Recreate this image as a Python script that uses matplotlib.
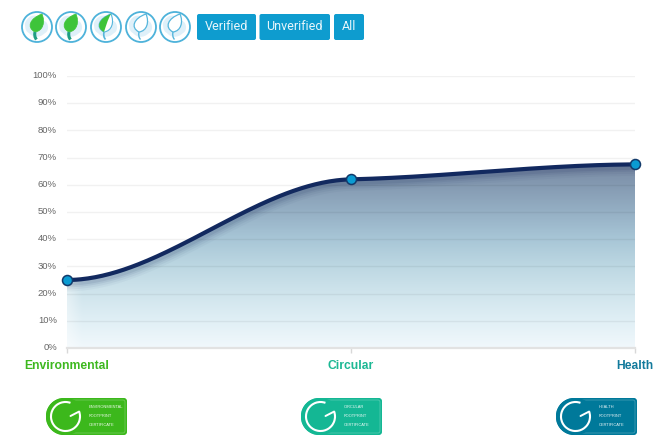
import numpy as np
import matplotlib
matplotlib.use("Agg")
import matplotlib.pyplot as plt
from matplotlib.path import Path
from matplotlib.patches import PathPatch, Circle, FancyBboxPatch, Arc
from matplotlib.colors import LinearSegmentedColormap
from matplotlib.transforms import ScaledTranslation

plt.rcParams['font.family'] = ['Liberation Sans', 'DejaVu Sans']

# ---- data ----
categories = ["Environmental", "Circular", "Health"]
values = [25, 62, 67.5]
end_slopes = [0, 2.5, 0.5]
y_ticks = list(range(0, 101, 10))
y_labels = [f"{v}%" for v in y_ticks]
cat_colors = ["#3db81e", "#1cb894", "#127a9c"]
badge_colors = ["#3cb81c", "#14b794", "#00799a"]
badge_lines = [["ENVIRONMENTAL", "FOOTPRINT", "CERTIFICATE"],
               ["CIRCULAR", "FOOTPRINT", "CERTIFICATE"],
               ["HEALTH", "FOOTPRINT", "CERTIFICATE"]]
leaf_fill = ["full", "full", "half", "none", "none"]
buttons = ["Verified", "Unverified", "All"]

W, H = 667, 445
fig = plt.figure(figsize=(W / 100, H / 100), dpi=100, facecolor="white")

# main plot axes, positioned in pixels
L, R, T, B = 66.6, 635, 76, 348
ax = fig.add_axes([L / W, 1 - B / H, (R - L) / W, (B - T) / H])
ax.set_xlim(0, 2)
ax.set_ylim(0, 100)
ax.patch.set_alpha(0)
for s in ax.spines.values():
    s.set_visible(False)

# smooth curve through the data (cubic Hermite)
xs, ys = [], []
for i in range(len(values) - 1):
    t = np.linspace(0, 1, 120)
    h00 = 2*t**3 - 3*t**2 + 1
    h10 = t**3 - 2*t**2 + t
    h01 = -2*t**3 + 3*t**2
    h11 = t**3 - t**2
    ys.append(h00*values[i] + h10*end_slopes[i] + h01*values[i+1] + h11*end_slopes[i+1])
    xs.append(i + t)
xs = np.concatenate(xs)
ys = np.concatenate(ys)

# gradient fill
cmap = LinearSegmentedColormap.from_list("fill", [
    (0.00, "#f1f8fc"), (0.15, "#e0eff5"), (0.30, "#cfe4ec"), (0.45, "#bcd7e2"),
    (0.60, "#a7c5d6"), (0.75, "#94aec3"), (0.90, "#8398b0"), (1.00, "#7a8aa3")])
top = max(values)
g = np.linspace(1, 0, 256)[:, None].repeat(300, axis=1)
rgba = cmap(g)
ramp = np.clip(0.6 + 0.4 * np.linspace(0, 2, 300) / 0.05, 0, 1)
rgba[..., :3] = rgba[..., :3] * ramp[None, :, None] + (1 - ramp[None, :, None])
poly = Path(np.column_stack([np.r_[xs, xs[-1], xs[0]], np.r_[ys, 0, 0]]))
clip = PathPatch(poly, transform=ax.transData, fc="none", ec="none")
ax.add_patch(clip)
im = ax.imshow(rgba, extent=[0, 2, 0, top], aspect="auto", zorder=1, interpolation="bilinear")
im.set_clip_path(clip)
ax.set_xlim(0, 2)
ax.set_ylim(0, 100)

# soft shadow below the line, kept inside the fill
for lw, a in [(13, 0.035), (10, 0.05), (7, 0.07), (4.5, 0.09)]:
    sh, = ax.plot(xs, ys - 0.9, color="#1b2f5e", lw=lw, alpha=a, zorder=2, solid_capstyle="butt")
    sh.set_clip_path(clip)

# grid
ax.set_yticks(y_ticks, y_labels)
for v in y_ticks[1:]:
    ax.axhline(v, color="black", alpha=0.055, lw=1.0, zorder=3)
ax.axhline(0, color="#e2e2e2", lw=1.6, zorder=3, clip_on=False)
ax.tick_params(axis="y", length=0, pad=7, labelsize=6.8, labelcolor="#666666")
shift = ScaledTranslation(0, 1 / 72, fig.dpi_scale_trans)
for lab in ax.get_yticklabels():
    lab.set_transform(lab.get_transform() + shift)

ax.set_xticks(range(len(categories)), categories)
ax.tick_params(axis="x", length=3.6, width=1, color="#d8d8d8", pad=5, labelsize=8.7)
for lab, c in zip(ax.get_xticklabels(), cat_colors):
    lab.set_color(c)
    lab.set_fontweight("bold")

ax.plot(xs, ys, color="#12295f", lw=3.0, zorder=5, clip_on=False, solid_capstyle="round")
ax.plot(range(len(values)), values, ls="none", marker="o", ms=7.2, mfc="#0a9bd2",
        mec="#123a6b", mew=1.1, zorder=6, clip_on=False)

# decoration overlay in pixel coordinates
ov = fig.add_axes([0, 0, 1, 1], zorder=10)
ov.set_xlim(0, W)
ov.set_ylim(H, 0)
ov.axis("off")
ov.patch.set_alpha(0)

# buttons
btn_x = [(197, 256), (259.5, 330), (334, 364)]
for (x0, x1), label in zip(btn_x, buttons):
    ov.add_patch(FancyBboxPatch((x0 + 1.5, 15.5), x1 - x0 - 3, 23, boxstyle="round,pad=1.5,rounding_size=2",
                                fc="#0e9ccf", ec="none"))
    ov.text((x0 + x1) / 2, 26.5, label, color="#e8f6fb", fontsize=9, family=["Roboto", "DejaVu Sans"],
            ha="center", va="center")

# leaf icons
LEAF_CODES = [Path.MOVETO, Path.CURVE4, Path.CURVE4, Path.CURVE4,
              Path.CURVE4, Path.CURVE4, Path.CURVE4, Path.CLOSEPOLY]

def leaf_path(cx, cy):
    base = (cx - 2, cy + 5)
    tip = (cx + 5, cy - 13)
    return base, tip, Path([base, (cx - 11, cy + 0.5), (cx - 7, cy - 9), tip,
                            (cx + 8.5, cy - 5), (cx + 6, cy + 4), base, base], LEAF_CODES)

for i, state in enumerate(leaf_fill):
    cx, cy = [37, 71, 106, 141, 175][i], 27
    ov.add_patch(Circle((cx, cy), 15, fc="white", ec="#4db2da", lw=1.3))
    ov.add_patch(PathPatch(Path([(cx - 12, cy - 4), (cx - 8, cy - 14), (cx + 2, cy - 13), (cx + 4, cy - 6),
                                 (cx + 12, cy - 8), (cx + 13, cy + 4), (cx + 8, cy + 6),
                                 (cx + 2, cy + 12), (cx - 5, cy + 10), (cx - 8, cy + 6),
                                 (cx - 13, cy + 4), (cx - 12, cy - 4), (cx - 12, cy - 4)],
                                [Path.MOVETO] + [Path.CURVE4] * 3 + [Path.CURVE4] * 3 +
                                [Path.CURVE4] * 3 + [Path.CURVE4] * 2 + [Path.CLOSEPOLY]),
                           fc="#dff0f9", ec="none"))
    base, tip, lp = leaf_path(cx, cy)
    stem = Path([base, (cx - 2.5, cy + 8), (cx - 2.5, cy + 10), (cx - 0.5, cy + 12.5)],
                [Path.MOVETO, Path.CURVE4, Path.CURVE4, Path.CURVE4])
    if state == "full":
        ov.add_patch(PathPatch(lp, fc="#3ec43a", ec="#3ec43a", lw=0.5))
        ov.add_patch(PathPatch(stem, fc="none", ec="#1f9e83", lw=2.2))
    elif state == "half":
        ov.add_patch(PathPatch(lp, fc="white", ec="#56b6dc", lw=0.8))
        half = Path([base, (cx - 11, cy + 0.5), (cx - 7, cy - 9), tip,
                     (cx + 1.5, cy - 7), (cx, cy - 1), base, base], LEAF_CODES)
        ov.add_patch(PathPatch(half, fc="#3ec43a", ec="none"))
        ov.add_patch(PathPatch(stem, fc="none", ec="#56b6dc", lw=1.2))
    else:
        ov.add_patch(PathPatch(lp, fc="white", ec="#56b6dc", lw=0.9))
        ov.add_patch(PathPatch(stem, fc="none", ec="#56b6dc", lw=1.0))

# badges
def badge_path(x0, x1, y0, y1, rl, rr):
    k = 0.55
    v = [(x0 + rl, y0), (x1 - rr, y0), (x1 - rr + k*rr, y0), (x1, y0 + rr - k*rr), (x1, y0 + rr),
         (x1, y1 - rr), (x1, y1 - rr + k*rr), (x1 - rr + k*rr, y1), (x1 - rr, y1),
         (x0 + rl, y1), (x0 + rl - k*rl, y1), (x0, y1 - rl + k*rl), (x0, y1 - rl),
         (x0, y0 + rl), (x0, y0 + rl - k*rl), (x0 + rl - k*rl, y0), (x0 + rl, y0), (x0 + rl, y0)]
    c = [Path.MOVETO, Path.LINETO, Path.CURVE4, Path.CURVE4, Path.CURVE4,
         Path.LINETO, Path.CURVE4, Path.CURVE4, Path.CURVE4,
         Path.LINETO, Path.CURVE4, Path.CURVE4, Path.CURVE4,
         Path.LINETO, Path.CURVE4, Path.CURVE4, Path.CURVE4, Path.CLOSEPOLY]
    return Path(v, c)

for x0, col, lines in zip([46, 301, 556], badge_colors, badge_lines):
    x1, y0, y1 = x0 + 81, 398, 435
    ov.add_patch(PathPatch(badge_path(x0, x1, y0, y1, 18, 3), fc=col, ec="none"))
    ov.add_patch(PathPatch(badge_path(x0 + 14, x1 - 2, y0 + 2, y1 - 2, 3, 2), fc="none", ec="white",
                           lw=0.5, alpha=0.3))
    gx, gy = x0 + 19.5, 416.5
    ov.add_patch(PathPatch(badge_path(x0, x0 + 38, y0, y1, 18, 18), fc=col, ec="none"))
    ov.add_patch(Arc((gx, gy), 29, 29, theta1=-20, theta2=290, color="white", lw=1.5))
    tip_x = gx + 14.5 * np.cos(np.radians(20))
    tip_y = gy - 14.5 * np.sin(np.radians(20))
    ov.plot([gx + 5, tip_x], [gy - 0.5, tip_y], color="white", lw=1.4, solid_capstyle="round")
    for j, t in enumerate(lines):
        ov.text(x0 + 43, 407 + j * 9, t, color="white", fontsize=2.85, alpha=0.9, ha="left", va="center")

fig.savefig("out.png", dpi=100, facecolor="white")
